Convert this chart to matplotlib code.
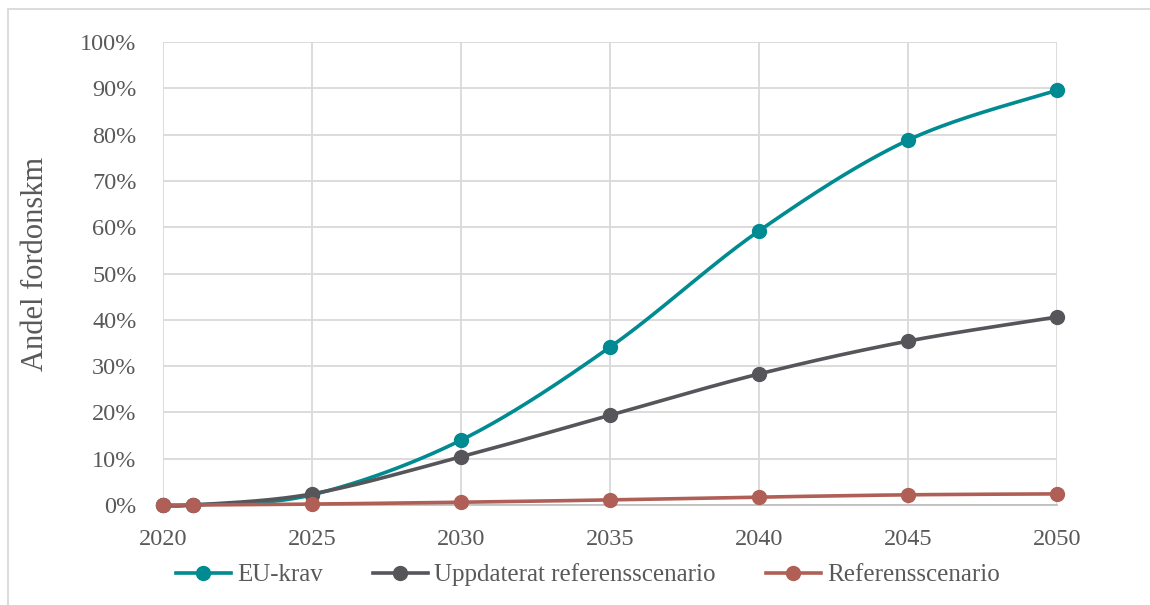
import matplotlib
matplotlib.use("Agg")
import matplotlib.pyplot as plt
import numpy as np
from matplotlib.lines import Line2D
from matplotlib.ticker import FuncFormatter

years = [2020, 2021, 2025, 2030, 2035, 2040, 2045, 2050]
eu_krav = [0.0, 0.0, 0.022, 0.140, 0.341, 0.592, 0.788, 0.896]
uppdaterat = [0.0, 0.0, 0.024, 0.104, 0.194, 0.283, 0.354, 0.406]
referens = [0.0, 0.0, 0.002, 0.006, 0.011, 0.017, 0.022, 0.024]
series_names = ["EU-krav", "Uppdaterat referensscenario", "Referensscenario"]
x_ticks = [2020, 2025, 2030, 2035, 2040, 2045, 2050]

COLORS = ["#008A91", "#55555A", "#B05F56"]
FONT = "Liberation Serif"
TEXT_COLOR = "#595959"
GRID_COLOR = "#D9D9D9"


def smooth(x, y, n=40):
    # Excel-style smoothed line (Catmull-Rom through the points)
    x = np.asarray(x, float)
    y = np.asarray(y, float)
    px = np.concatenate([[x[0]], x, [x[-1]]])
    py = np.concatenate([[y[0]], y, [y[-1]]])
    xs, ys = [], []
    t = np.linspace(0, 1, n)
    for i in range(1, len(px) - 2):
        p0 = np.array([px[i], py[i]])
        p3 = np.array([px[i + 1], py[i + 1]])
        c1 = p0 + (np.array([px[i + 1], py[i + 1]]) - np.array([px[i - 1], py[i - 1]])) / 6
        c2 = p3 - (np.array([px[i + 2], py[i + 2]]) - np.array([px[i], py[i]])) / 6
        pts = ((1 - t) ** 3)[:, None] * p0 + (3 * (1 - t) ** 2 * t)[:, None] * c1 \
            + (3 * (1 - t) * t ** 2)[:, None] * c2 + (t ** 3)[:, None] * p3
        xs.extend(pts[:, 0])
        ys.extend(pts[:, 1])
    return np.array(xs), np.array(ys)


fig = plt.figure(figsize=(11.5, 6.05), dpi=100)
ax = fig.add_axes([163 / 1150, 1 - 505 / 605, (1057 - 163) / 1150, (505 - 42) / 605])

handles = []
for vals, name, col in zip([eu_krav, uppdaterat, referens], series_names, COLORS):
    sx, sy = smooth(years, vals)
    ax.plot(sx, sy, color=col, lw=2.6, solid_capstyle="round", clip_on=False, zorder=3)
    ax.plot(years, vals, "o", color=col, ms=10, clip_on=False, zorder=4)
    handles.append(Line2D([], [], color=col, lw=2.6, marker="o", ms=10))

ax.set_xlim(2020, 2050)
ax.set_ylim(0, 1)
ax.set_xticks(x_ticks)
ax.set_yticks(np.arange(0, 1.01, 0.1))
ax.yaxis.set_major_formatter(FuncFormatter(lambda v, p: f"{v * 100:.0f}%"))
ax.grid(True, color=GRID_COLOR, lw=1.3)
ax.set_axisbelow(True)
for s in ["top", "right", "left"]:
    ax.spines[s].set_visible(False)
ax.spines["bottom"].set_color("#BFBFBF")
ax.spines["bottom"].set_linewidth(1.3)
ax.tick_params(length=0, labelsize=17.5, labelcolor=TEXT_COLOR)
ax.tick_params(axis="x", pad=17)
ax.tick_params(axis="y", pad=19)
for lab in ax.get_xticklabels() + ax.get_yticklabels():
    lab.set_fontfamily(FONT)

ax.set_ylabel("Andel fordonskm", fontsize=22, fontfamily=FONT, color=TEXT_COLOR, va="center")
ax.yaxis.set_label_coords((36 - 163) / 894, (505 - 264) / 463)

fig.legend(handles, series_names, loc="center", bbox_to_anchor=(0.511, 1 - 575 / 605),
           ncol=3, frameon=False, handlelength=2.2, columnspacing=2.0, handletextpad=0.25,
           prop={"family": FONT, "size": 18}, labelcolor=TEXT_COLOR)

fig.add_artist(Line2D([7.5 / 1150, 7.5 / 1150], [0, 1 - 9 / 605], color=GRID_COLOR, lw=1.3))
fig.add_artist(Line2D([7.5 / 1150, 1], [1 - 9 / 605, 1 - 9 / 605], color=GRID_COLOR, lw=1.3))

fig.savefig("out.png", dpi=100)
